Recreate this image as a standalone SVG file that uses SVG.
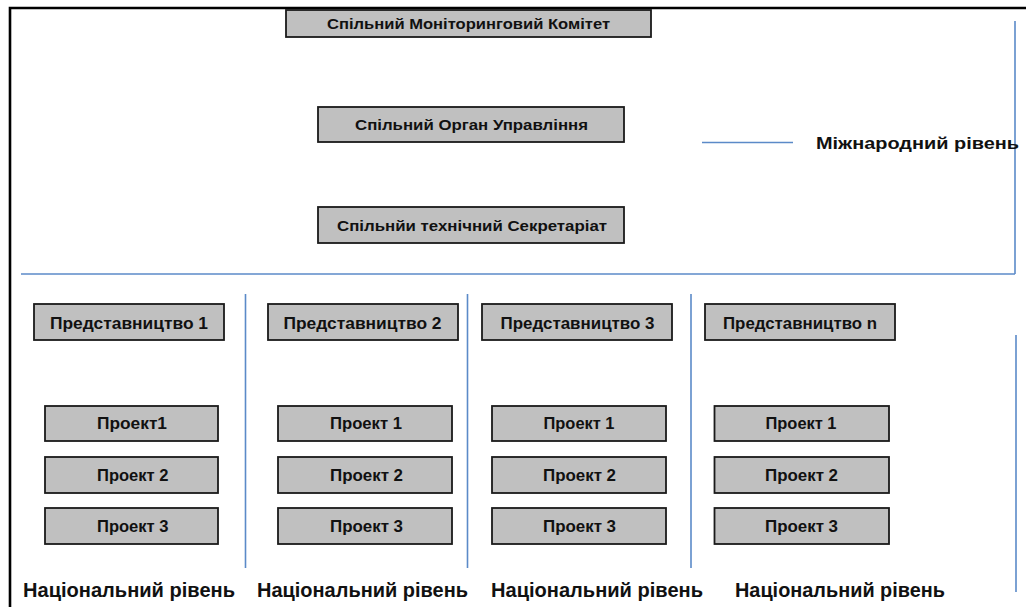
<svg xmlns="http://www.w3.org/2000/svg" width="1026" height="607" viewBox="0 0 1026 607">
<style>
.box{fill:#c0c0c0;stroke:#1a1a1a;stroke-width:1.8}
.t{font-family:"Liberation Sans",Arial,sans-serif;font-weight:bold;fill:#111}
.s13{font-size:15px}
.s15{font-size:17px}
.s14{font-size:16px}
.s18{font-size:20px}
.blue{stroke:#5b8ac8;stroke-width:1.6;fill:none}
.frame{stroke:#000;stroke-width:2.6;fill:none}
</style>
<rect width="1026" height="607" fill="#fff"/>
<g id="frame">
<path class="frame" d="M10,607 V8 H1026"/>
</g>
<g id="connectors">
<line class="blue" x1="702" y1="142.5" x2="793" y2="142.5"/>
<line class="blue" x1="1015" y1="21" x2="1015" y2="274"/>
<line class="blue" x1="21" y1="274" x2="1015" y2="274"/>
<line class="blue" x1="245.5" y1="294" x2="245.5" y2="568"/>
<line class="blue" x1="467.5" y1="294" x2="467.5" y2="568"/>
<line class="blue" x1="691" y1="294" x2="691" y2="568"/>
<line class="blue" x1="1016" y1="335" x2="1016" y2="592"/>
</g>
<g id="monitoring">
<rect class="box" x="286" y="10" width="365" height="27"/>
<text class="t s13" x="327" y="29" textLength="283" lengthAdjust="spacingAndGlyphs">Спільний Моніторинговий Комітет</text>
</g>
<g id="management">
<rect class="box" x="318" y="107" width="306" height="35"/>
<text class="t s13" x="355" y="129.5" textLength="233" lengthAdjust="spacingAndGlyphs">Спільний Орган Управління</text>
</g>
<g id="secretariat">
<rect class="box" x="318" y="207" width="306" height="36"/>
<text class="t s13" x="337" y="231" textLength="270" lengthAdjust="spacingAndGlyphs">Спільнйи технічний Секретаріат</text>
</g>
<g id="intl-label">
<text class="t s15" x="816" y="148.5" textLength="203" lengthAdjust="spacingAndGlyphs">Міжнародний рівень</text>
</g>
<g id="rep1">
<rect class="box" x="34" y="304" width="190" height="36"/>
<text class="t s15" x="50" y="328.5" textLength="158" lengthAdjust="spacingAndGlyphs">Представництво 1</text>
</g>
<g id="rep2">
<rect class="box" x="268" y="304" width="190" height="36"/>
<text class="t s15" x="283.5" y="328.5" textLength="158" lengthAdjust="spacingAndGlyphs">Представництво 2</text>
</g>
<g id="rep3">
<rect class="box" x="482" y="304" width="190" height="36"/>
<text class="t s15" x="500.5" y="328.5" textLength="154" lengthAdjust="spacingAndGlyphs">Представництво 3</text>
</g>
<g id="repn">
<rect class="box" x="705" y="304" width="190" height="36"/>
<text class="t s15" x="723" y="328.5" textLength="154" lengthAdjust="spacingAndGlyphs">Представництво n</text>
</g>
<g id="c1p1"><rect class="box" x="45" y="406" width="173" height="35"/><text class="t s14" x="97" y="429" textLength="70" lengthAdjust="spacingAndGlyphs">Проект1</text></g>
<g id="c1p2"><rect class="box" x="45" y="457" width="173" height="36"/><text class="t s14" x="97" y="480.5" textLength="71.5" lengthAdjust="spacingAndGlyphs">Проект 2</text></g>
<g id="c1p3"><rect class="box" x="45" y="508" width="173" height="36"/><text class="t s14" x="97" y="532" textLength="71.5" lengthAdjust="spacingAndGlyphs">Проект 3</text></g>
<g id="c2p1"><rect class="box" x="278" y="406" width="174" height="35"/><text class="t s14" x="330" y="429" textLength="72" lengthAdjust="spacingAndGlyphs">Проект 1</text></g>
<g id="c2p2"><rect class="box" x="278" y="457" width="174" height="36"/><text class="t s14" x="330" y="480.5" textLength="73" lengthAdjust="spacingAndGlyphs">Проект 2</text></g>
<g id="c2p3"><rect class="box" x="278" y="508" width="174" height="36"/><text class="t s14" x="330" y="532" textLength="73" lengthAdjust="spacingAndGlyphs">Проект 3</text></g>
<g id="c3p1"><rect class="box" x="492" y="406" width="174" height="35"/><text class="t s14" x="543.5" y="429" textLength="71" lengthAdjust="spacingAndGlyphs">Проект 1</text></g>
<g id="c3p2"><rect class="box" x="492" y="457" width="174" height="36"/><text class="t s14" x="543" y="480.5" textLength="73" lengthAdjust="spacingAndGlyphs">Проект 2</text></g>
<g id="c3p3"><rect class="box" x="492" y="508" width="174" height="36"/><text class="t s14" x="543" y="532" textLength="73" lengthAdjust="spacingAndGlyphs">Проект 3</text></g>
<g id="c4p1"><rect class="box" x="714.5" y="406" width="174.5" height="35"/><text class="t s14" x="765.5" y="429" textLength="71" lengthAdjust="spacingAndGlyphs">Проект 1</text></g>
<g id="c4p2"><rect class="box" x="714.5" y="457" width="174.5" height="36"/><text class="t s14" x="765" y="480.5" textLength="73" lengthAdjust="spacingAndGlyphs">Проект 2</text></g>
<g id="c4p3"><rect class="box" x="714.5" y="508" width="174.5" height="36"/><text class="t s14" x="765" y="532" textLength="73" lengthAdjust="spacingAndGlyphs">Проект 3</text></g>
<g id="nat-labels">
<text class="t s18" x="23" y="597" textLength="212" lengthAdjust="spacingAndGlyphs">Національний рівень</text>
<text class="t s18" x="257" y="597" textLength="211" lengthAdjust="spacingAndGlyphs">Національний рівень</text>
<text class="t s18" x="491" y="597" textLength="212" lengthAdjust="spacingAndGlyphs">Національний рівень</text>
<text class="t s18" x="735" y="597" textLength="210" lengthAdjust="spacingAndGlyphs">Національний рівень</text>
</g>
</svg>
